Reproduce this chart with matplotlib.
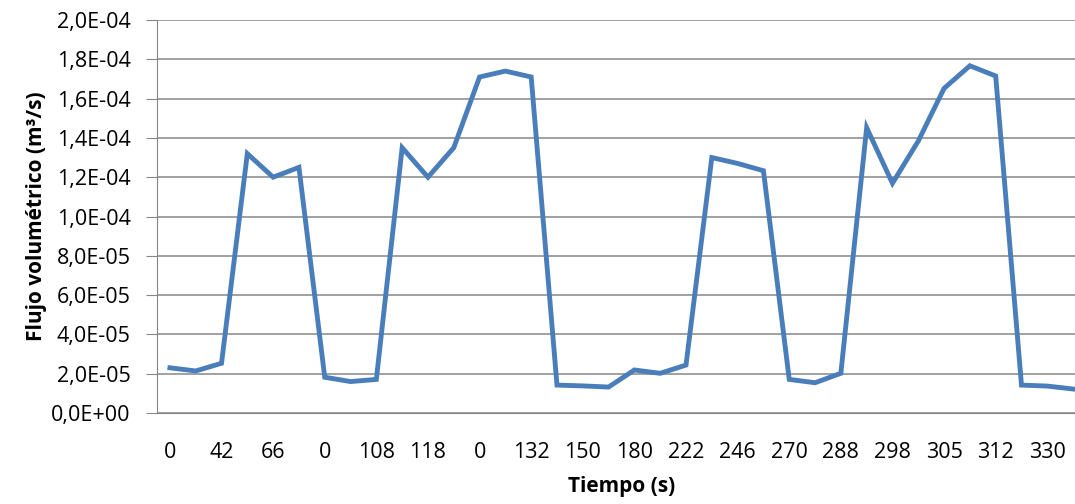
import numpy as np
import matplotlib.pyplot as plt
from matplotlib.ticker import FuncFormatter

# --- datos ---
# etiquetas del eje x (Excel muestra solo una de cada dos categorías)
tick_labels = ["0", "42", "66", "0", "108", "118", "0", "132", "150",
               "180", "222", "246", "270", "288", "298", "305", "312", "330"]

# flujo volumétrico (m3/s), 36 puntos
flujo = [2.30e-5, 2.14e-5, 2.53e-5, 1.32e-4, 1.20e-4, 1.25e-4,
         1.82e-5, 1.60e-5, 1.71e-5, 1.35e-4, 1.20e-4, 1.35e-4,
         1.71e-4, 1.74e-4, 1.71e-4, 1.42e-5, 1.38e-5, 1.32e-5,
         2.19e-5, 2.02e-5, 2.44e-5, 1.30e-4, 1.27e-4, 1.233e-4,
         1.71e-5, 1.54e-5, 2.02e-5, 1.452e-4, 1.169e-4, 1.384e-4,
         1.652e-4, 1.767e-4, 1.715e-4, 1.42e-5, 1.37e-5, 1.22e-5]

plt.rcParams['font.family'] = ['Open Sans', 'DejaVu Sans']

fig = plt.figure(figsize=(10.75, 5.04), dpi=100)
W, H = 1075, 504
left, right, top, bottom = 157, 1086, 20, 413
ax = fig.add_axes([left / W, 1 - bottom / H, (right - left) / W, (bottom - top) / H])

x = np.arange(len(flujo))
ax.plot(x, flujo, color='#4A7EBB', linewidth=3.5, solid_joinstyle='miter')

ax.set_xlim(-0.5, len(flujo) - 0.5)
ax.set_ylim(0, 2.0e-4)
ax.set_yticks(np.arange(0, 2.01e-4, 2e-5))
ax.yaxis.set_major_formatter(FuncFormatter(lambda v, p: f"{v:.1E}".replace('.', ',')))
ax.set_xticks(x[::2])
ax.set_xticklabels(tick_labels)

ax.grid(axis='y', color='#868686', linewidth=1.1)
ax.set_axisbelow(True)
for s in ['top', 'right']:
    ax.spines[s].set_visible(False)
ax.spines['left'].set_color('#868686')
ax.spines['bottom'].set_color('#868686')
ax.tick_params(axis='y', length=8, color='#868686', labelsize=15.5, pad=11)
ax.tick_params(axis='x', length=0, labelsize=15.5, pad=21)

ax.set_xlabel("Tiempo (s)", fontsize=15, fontweight='bold', labelpad=9)
ax.set_ylabel("Flujo volumétrico (m³/s)", fontsize=15, fontweight='bold', labelpad=3)

fig.savefig('out.png', dpi=100)
